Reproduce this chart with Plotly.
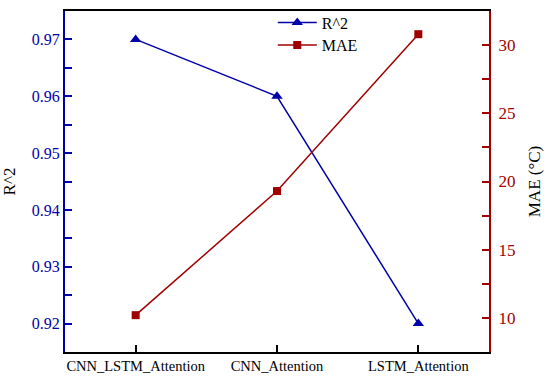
import plotly.graph_objects as go

categories = ["CNN_LSTM_Attention", "CNN_Attention", "LSTM_Attention"]
r2_values = [0.97, 0.96, 0.92]
mae_values = [10.2, 19.3, 30.8]

BLUE = "#0000AA"
RED = "#A00000"
FONT = "'Liberation Serif', 'Times New Roman', serif"

fig = go.Figure()
fig.add_trace(go.Scatter(
    x=categories, y=r2_values, name="R^2", mode="lines+markers",
    line=dict(color=BLUE, width=1.5),
    marker=dict(symbol="triangle-up", size=10, color=BLUE),
    yaxis="y", legend="legend"))
fig.add_trace(go.Scatter(
    x=categories, y=mae_values, name="MAE", mode="lines+markers",
    line=dict(color=RED, width=1.5),
    marker=dict(symbol="square", size=8, color=RED),
    yaxis="y2", legend="legend2"))

legend_common = dict(x=0.49, xanchor="left", yanchor="middle",
                     bgcolor="rgba(0,0,0,0)", font=dict(family=FONT, size=16),
                     itemwidth=39)

fig.update_layout(
    width=550, height=379,
    margin=dict(l=65, r=61, t=11, b=27, autoexpand=False),
    paper_bgcolor="white", plot_bgcolor="white",
    font=dict(family=FONT, size=16, color="black"),
    showlegend=True,
    legend=dict(y=0.966, **legend_common),
    legend2=dict(y=0.900, **legend_common),
    xaxis=dict(
        type="category", range=[-0.5, 2.5], automargin=False,
        showline=True, linecolor="black", linewidth=2, mirror=True,
        ticks="inside", ticklen=7, tickwidth=1.5, tickcolor="black",
        showgrid=False, zeroline=False,
        tickfont=dict(family=FONT, size=14.5, color="black")),
    yaxis=dict(
        range=[0.915, 0.975], automargin=False,
        tickvals=[0.92, 0.93, 0.94, 0.95, 0.96, 0.97],
        ticktext=["0.92", "0.93", "0.94", "0.95", "0.96", "0.97"],
        showline=True, linecolor=BLUE, linewidth=2,
        ticks="inside", ticklen=7, tickwidth=1.5, tickcolor=BLUE,
        minor=dict(ticks="inside", ticklen=7, tickwidth=1.5, tickcolor=BLUE, dtick=0.005, showgrid=False),
        showgrid=False, zeroline=False,
        tickfont=dict(family=FONT, size=16, color=BLUE),
        title=dict(text="R^2", font=dict(family=FONT, size=17, color="black"), standoff=14)),
    yaxis2=dict(
        overlaying="y", side="right", range=[7.5, 32.5], automargin=False,
        tickvals=[10, 15, 20, 25, 30],
        showline=True, linecolor=RED, linewidth=2,
        ticks="inside", ticklen=7, tickwidth=1.5, tickcolor=RED,
        ticklabelstandoff=4,
        minor=dict(ticks="inside", ticklen=7, tickwidth=1.5, tickcolor=RED, dtick=2.5, showgrid=False),
        showgrid=False, zeroline=False,
        tickfont=dict(family=FONT, size=17, color=RED),
        title=dict(text="MAE (°C)", font=dict(family=FONT, size=17, color="black"), standoff=14)),
)

fig.write_html("out.html", config={"displayModeBar": False},
               post_script="document.body.style.margin='0';")
